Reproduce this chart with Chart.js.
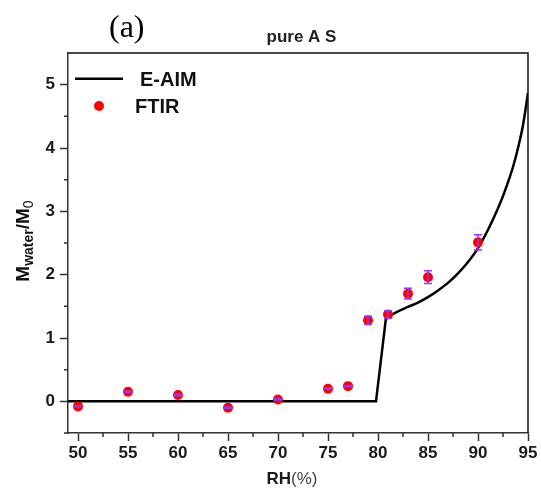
<!DOCTYPE html>
<html>
<head>
<meta charset="utf-8">
<script src="https://cdn.jsdelivr.net/npm/chart.js@4"></script>
<style>
  html, body { margin: 0; padding: 0; background: #fff; }
  #graphCanvas { display: block; }
</style>
</head>
<body>
<canvas id="graphCanvas" width="541" height="495"></canvas>
<script>
// E-AIM model: flat part up to deliquescence, then the growth curve
var rhAimStep = [49, 79.8, 80.8];
var mAimStep  = [0, 0, 1.32];
var rhAimCurve = [80.8, 82, 83, 84, 85, 86, 87, 88, 89, 90, 91, 92, 92.5, 93, 93.5, 94, 94.5, 95];
var mAimCurve  = [1.32, 1.42, 1.49, 1.56, 1.645, 1.75, 1.87, 2.02, 2.20, 2.42, 2.71, 3.05, 3.24, 3.46, 3.70, 4.00, 4.36, 4.87];

// FTIR measurements with error
var rhFtir  = [50, 55, 60, 65, 70, 75, 77, 79, 81, 83, 85, 90];
var mFtir   = [-0.08, 0.15, 0.10, -0.10, 0.03, 0.20, 0.24, 1.28, 1.37, 1.70, 1.96, 2.51];
var errFtir = [0.01, 0.01, 0.01, 0.01, 0.01, 0.01, 0.01, 0.065, 0.06, 0.085, 0.1, 0.12];

var xTicks = [50, 55, 60, 65, 70, 75, 80, 85, 90, 95];
var yTicks = [0, 1, 2, 3, 4, 5];
var xMinor = [52.5, 57.5, 62.5, 67.5, 72.5, 77.5, 82.5, 87.5, 92.5];
var yMinor = [-0.5, 0.5, 1.5, 2.5, 3.5, 4.5];

var SANS = "'Liberation Sans', Arial, sans-serif";
var axisColor = '#333';

function toPoints(xs, ys) {
    var pts = [];
    for (var i in xs) {
        pts.push({x: xs[i], y: ys[i]});
    }
    return pts;
}

// frame, minor ticks, error bars and all the free text
var decorations = {
    id: 'decorations',
    afterDatasetsDraw: function (chart) {
        var ctx = chart.ctx;
        var xs = chart.scales.x, ys = chart.scales.y;
        var a = chart.chartArea;
        ctx.save();

        // error bars on the FTIR points
        ctx.strokeStyle = '#9933ff';
        ctx.lineWidth = 1.5;
        for (var i in rhFtir) {
            var px = xs.getPixelForValue(rhFtir[i]);
            var top = ys.getPixelForValue(mFtir[i] + errFtir[i]);
            var bot = ys.getPixelForValue(mFtir[i] - errFtir[i]);
            ctx.beginPath();
            ctx.moveTo(px, top); ctx.lineTo(px, bot);
            ctx.moveTo(px - 4, top); ctx.lineTo(px + 4, top);
            ctx.moveTo(px - 4, bot); ctx.lineTo(px + 4, bot);
            ctx.stroke();
        }

        // top and right borders
        ctx.strokeStyle = '#111';
        ctx.lineWidth = 1.5;
        ctx.beginPath();
        ctx.moveTo(a.left, a.top); ctx.lineTo(a.right, a.top); ctx.lineTo(a.right, a.bottom);
        ctx.stroke();

        // minor ticks
        ctx.strokeStyle = axisColor;
        ctx.beginPath();
        xMinor.forEach(function (v) {
            var p = xs.getPixelForValue(v);
            ctx.moveTo(p, a.bottom); ctx.lineTo(p, a.bottom + 4);
        });
        yMinor.forEach(function (v) {
            var p = ys.getPixelForValue(v);
            ctx.moveTo(a.left, p); ctx.lineTo(a.left - 4, p);
        });
        ctx.stroke();

        // legend
        ctx.strokeStyle = '#000';
        ctx.lineWidth = 2.5;
        ctx.beginPath();
        ctx.moveTo(75, 78.7); ctx.lineTo(123, 78.7);
        ctx.stroke();
        ctx.fillStyle = '#ff0000';
        ctx.beginPath();
        ctx.arc(99, 106, 5, 0, Math.PI * 2);
        ctx.fill();
        ctx.fillStyle = '#111';
        ctx.textBaseline = 'alphabetic';
        ctx.textAlign = 'left';
        ctx.font = 'bold 20px ' + SANS;
        ctx.fillText('E-AIM', 140, 86);
        ctx.fillText('FTIR', 135, 113);

        // panel label and title
        ctx.font = "32px 'Liberation Serif', 'Times New Roman', serif";
        ctx.fillStyle = '#000';
        ctx.fillText('(a)', 109, 37);
        ctx.font = 'bold 17px ' + SANS;
        ctx.fillStyle = '#222';
        ctx.textAlign = 'center';
        ctx.fillText('pure A S', 301.5, 42);

        // x axis title: RH(%)
        ctx.textAlign = 'left';
        ctx.font = 'bold 17px ' + SANS;
        var w1 = ctx.measureText('RH').width;
        ctx.font = '17px ' + SANS;
        var w2 = ctx.measureText('(%)').width;
        var x0 = 292 - (w1 + w2) / 2;
        ctx.font = 'bold 17px ' + SANS;
        ctx.fillStyle = '#1a1a1a';
        ctx.fillText('RH', x0, 484);
        ctx.font = '17px ' + SANS;
        ctx.fillStyle = '#444';
        ctx.fillText('(%)', x0 + w1, 484);

        // y axis title: M_water / M_0
        var parts = [
            {t: 'M', f: 'bold 19px ' + SANS, dy: 0},
            {t: 'water', f: 'bold 14px ' + SANS, dy: 4},
            {t: '/M', f: 'bold 19px ' + SANS, dy: 0},
            {t: '0', f: '14px ' + SANS, dy: 4}
        ];
        var total = 0;
        parts.forEach(function (p) { ctx.font = p.f; p.w = ctx.measureText(p.t).width; total += p.w; });
        ctx.translate(28.5, 241 + total / 2);
        ctx.rotate(-Math.PI / 2);
        ctx.fillStyle = '#111';
        var cx = 0;
        parts.forEach(function (p) {
            ctx.font = p.f;
            ctx.fillText(p.t, cx, p.dy);
            cx += p.w;
        });
        ctx.restore();
    }
};

function showGraph()
{
    var chartdata = {
        datasets: [
            {
                label: 'FTIR',
                type: 'scatter',
                data: toPoints(rhFtir, mFtir),
                backgroundColor: '#ff0000',
                borderWidth: 0,
                pointRadius: 5,
                order: 0
            },
            {
                label: 'E-AIM',
                type: 'line',
                data: toPoints(rhAimStep, mAimStep),
                borderColor: '#000',
                borderWidth: 2.5,
                pointRadius: 0,
                tension: 0,
                fill: false,
                order: 1
            },
            {
                label: 'E-AIM curve',
                type: 'line',
                data: toPoints(rhAimCurve, mAimCurve),
                borderColor: '#000',
                borderWidth: 2.5,
                pointRadius: 0,
                cubicInterpolationMode: 'monotone',
                fill: false,
                order: 1
            }
        ]
    };

    var tickFont = {family: SANS, size: 17, weight: 'bold'};

    new Chart(document.getElementById('graphCanvas'), {
        type: 'scatter',
        data: chartdata,
        options: {
            responsive: false,
            animation: false,
            devicePixelRatio: 1,
            layout: {padding: {top: 53, right: 13, left: 0, bottom: 0}},
            plugins: {
                legend: {display: false},
                tooltip: {enabled: false},
                title: {display: false}
            },
            scales: {
                x: {
                    type: 'linear',
                    min: 49,
                    max: 95,
                    afterBuildTicks: function (scale) {
                        scale.ticks = xTicks.map(function (v) { return {value: v}; });
                    },
                    afterFit: function (scale) { scale.height = 62; },
                    ticks: {font: tickFont, color: '#1a1a1a', padding: 2, maxRotation: 0},
                    grid: {drawOnChartArea: false, tickLength: 8, tickWidth: 1.5, tickColor: axisColor},
                    border: {display: true, color: axisColor, width: 1.5}
                },
                y: {
                    type: 'linear',
                    min: -0.5,
                    max: 5.5,
                    afterBuildTicks: function (scale) {
                        scale.ticks = yTicks.map(function (v) { return {value: v}; });
                    },
                    afterFit: function (scale) { scale.width = 68; },
                    ticks: {font: tickFont, color: '#1a1a1a', padding: 5},
                    grid: {drawOnChartArea: false, tickLength: 8, tickWidth: 1.5, tickColor: axisColor},
                    border: {display: true, color: axisColor, width: 1.5}
                }
            }
        },
        plugins: [decorations]
    });
}

showGraph();
</script>
</body>
</html>
